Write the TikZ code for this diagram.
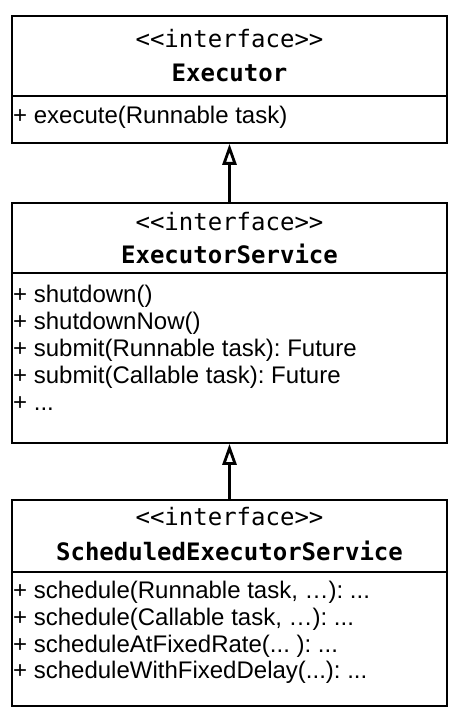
\documentclass[tikz,border=0pt]{standalone}
\usepackage{fontspec}
\setmainfont{Liberation Sans}
\setmonofont{DejaVu Sans Mono}
\usetikzlibrary{arrows.meta}
\frenchspacing

\tikzset{
  classbox/.style={draw,line width=1.8pt,minimum width=435pt,inner sep=0pt,anchor=north},
  divider/.style={line width=1.8pt},
  stereo/.style={font=\fontsize{24}{28}\selectfont\ttfamily,anchor=base,inner sep=0pt},
  cname/.style={font=\fontsize{24}{28}\selectfont\ttfamily\bfseries,anchor=base,inner sep=0pt},
  member/.style={font=\fontsize{24}{28}\selectfont,anchor=base west,inner sep=0pt},
  realize/.style={line width=3.5pt,-{Triangle[open,length=21pt,width=14pt,line width=2.8pt]}}
}

\begin{document}
\begin{tikzpicture}[x=1pt,y=-1pt]
  \useasboundingbox (0,0) rectangle (449,711);
  % Executor
  \node[classbox,minimum height=127pt] (exec) at (229.5,15) {};
  \draw[divider] (12,96) -- (447,96);
  \node[stereo] (exec-st) at (229.5,48) {<{}<interface>{}>};
  \node[cname] (exec-nm) at (229.5,82) {Executor};
  \node[member] (exec-m1) at (13,124) {+ execute(Runnable task)};
  % ExecutorService
  \node[classbox,minimum height=240pt] (svc) at (229.5,202) {};
  \draw[divider] (12,273) -- (447,273);
  \node[stereo] (svc-st) at (229.5,230) {<{}<interface>{}>};
  \node[cname] (svc-nm) at (229.5,263) {ExecutorService};
  \foreach \y/\t [count=\i] in {302/{+ shutdown()}, 329/{+ shutdownNow()},
                     356/{+ submit(Runnable task): Future},
                     383/{+ submit(Callable task): Future}, 410/{+ ...}}
    \node[member] (svc-m\i) at (13,\y) {\t};
  % ScheduledExecutorService
  \node[classbox,minimum height=206pt] (sched) at (229.5,499) {};
  \draw[divider] (12,572) -- (447,572);
  \node[stereo] (sched-st) at (229.5,525) {<{}<interface>{}>};
  \node[cname] (sched-nm) at (229.5,560) {ScheduledExecutorService};
  \foreach \y/\t [count=\i] in {598/{+ schedule(Runnable task, …): ...},
                     625/{+ schedule(Callable task, …): ...},
                     652/{+ scheduleAtFixedRate(... ): ...},
                     678/{+ scheduleWithFixedDelay(...): ...}}
    \node[member] (sched-m\i) at (13,\y) {\t};
  % inheritance
  \draw[realize] (svc.north) -- (exec.south);
  \draw[realize] (sched.north) -- (svc.south);
\end{tikzpicture}
\end{document}
